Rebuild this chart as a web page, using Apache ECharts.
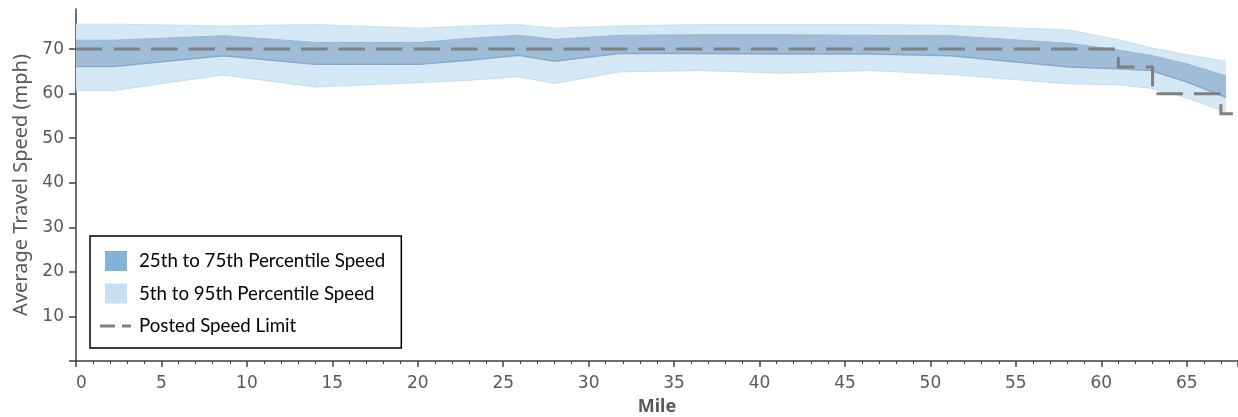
<!DOCTYPE html>
<html>
<head>
<meta charset="utf-8">
<script src="https://cdn.jsdelivr.net/npm/echarts@6/dist/echarts.min.js"></script>
<style>
html,body{margin:0;padding:0;background:#fff;}
#chart{width:1238px;height:417px;}
</style>
</head>
<body>
<div id="chart"></div>
<script>
// Data
const miles = [0, 2.2, 8.6, 14.0, 20.1, 23.0, 25.9, 28.0, 31.8, 36.6, 41.3, 46.4, 51.2, 58.1, 61.0, 62.9, 64.9, 67.3];
const p95 = [75.6, 75.6, 75.2, 75.5, 74.7, 75.2, 75.5, 74.7, 75.2, 75.5, 75.5, 75.5, 75.3, 74.3, 72.1, 70.3, 68.8, 67.3];
const p5  = [60.7, 60.7, 64.2, 61.5, 62.5, 63.0, 63.8, 62.3, 64.9, 65.2, 64.6, 65.2, 64.3, 62.2, 62.0, 61.2, 59.2, 55.9];
const p75 = [72.0, 72.0, 73.0, 71.5, 71.5, 72.4, 73.1, 72.2, 73.1, 73.2, 73.2, 73.1, 73.0, 71.3, 69.8, 68.6, 66.8, 64.0];
const p25 = [66.1, 66.1, 68.5, 66.6, 66.6, 67.5, 68.6, 67.3, 69.0, 69.0, 68.9, 68.9, 68.5, 66.0, 65.6, 65.2, 62.8, 59.2];
const limitMiles  = [0, 61.0, 61.0, 63.0, 63.0, 67.0, 67.0, 67.7];
const limitValues = [70, 70, 66, 66, 60, 60, 55.5, 55.5];
const xTicks = [0, 5, 10, 15, 20, 25, 30, 35, 40, 45, 50, 55, 60, 65];
const yTicks = [0, 10, 20, 30, 40, 50, 60, 70];
const yLabels = [10, 20, 30, 40, 50, 60, 70];
const seriesNames = ['25th to 75th Percentile Speed', '5th to 95th Percentile Speed', 'Posted Speed Limit'];

const bandRows = (lo, hi) => miles.map((m, i) => [m, lo[i], hi[i]]);

// Band drawn as one polygon through the axis scales (api.coord)
function bandRenderer(fill, edgeLo, edgeHi, edgeLoW, edgeHiW) {
  return function (params, api) {
    if (params.dataIndex !== 0) return null;
    const n = params.dataInsideLength !== undefined ? miles.length : miles.length;
    const top = [], bot = [];
    for (let i = 0; i < n; i++) {
      top.push(api.coord([api.value(0, i), api.value(2, i)]));
      bot.push(api.coord([api.value(0, i), api.value(1, i)]));
    }
    const poly = top.concat(bot.slice().reverse());
    return {
      type: 'group',
      children: [
        {type: 'polygon', shape: {points: poly}, style: {fill: fill, stroke: null}},
        {type: 'polyline', shape: {points: bot}, style: {fill: null, stroke: edgeLo, lineWidth: edgeLoW}},
        {type: 'polyline', shape: {points: top}, style: {fill: null, stroke: edgeHi, lineWidth: edgeHiW}}
      ]
    };
  };
}

const chart = echarts.init(document.getElementById('chart'), null, {renderer: 'canvas'});
const tickFont = {fontFamily: 'DejaVu Sans', fontSize: 17, color: '#595959'};
const rectIcon = 'path://M0,0M34,20M5,0H27V20H5Z';
const dashIcon = 'path://M0,0M34,20M0,8.5H15V11.5H0ZM22,8.5H31V11.5H22Z';

chart.setOption({
  backgroundColor: '#fff',
  animation: false,
  grid: {left: 76, right: 0, top: 9, bottom: 56, containLabel: false, outerBoundsMode: 'none'},
  legend: {
    orient: 'vertical',
    left: 90, top: 236,
    padding: [15, 16, 12, 10],
    itemWidth: 34, itemHeight: 20, itemGap: 12.5,
    backgroundColor: '#fff',
    borderColor: '#000', borderWidth: 1.5,
    selectedMode: false,
    textStyle: {fontFamily: 'Lato', fontSize: 18.7, color: '#000'},
    data: [
      {name: seriesNames[0], icon: rectIcon, itemStyle: {color: '#80b4d9', borderWidth: 0}},
      {name: seriesNames[1], icon: rectIcon, itemStyle: {color: '#c6dff2', borderWidth: 0}},
      {name: seriesNames[2], icon: dashIcon, itemStyle: {color: '#808080', borderWidth: 0}}
    ]
  },
  xAxis: {
    type: 'value', min: 0, max: 68, interval: 5,
    name: 'Mile', nameLocation: 'middle', nameGap: 37,
    nameTextStyle: {fontFamily: 'Noto Sans', fontSize: 18, fontWeight: 'bold', color: '#595959'},
    axisLine: {show: true, lineStyle: {color: '#404040', width: 1.5}},
    axisTick: {show: true, length: 6, lineStyle: {color: '#404040', width: 1.5}},
    minorTick: {show: true, splitNumber: 5, length: 3, lineStyle: {color: '#404040', width: 1}},
    axisLabel: Object.assign({margin: 14, alignMinLabel: 'left', customValues: xTicks}, tickFont),
    splitLine: {show: false}
  },
  yAxis: {
    type: 'value', min: 0, max: 79, interval: 10,
    name: 'Average Travel Speed (mph)', nameLocation: 'middle', nameGap: 44,
    nameTextStyle: {fontFamily: 'Noto Sans', fontSize: 20, color: '#595959'},
    axisLine: {show: true, lineStyle: {color: '#404040', width: 1.5}},
    axisTick: {show: true, length: 7, customValues: yTicks, lineStyle: {color: '#404040', width: 1.5}},
    axisLabel: Object.assign({margin: 12, customValues: yLabels}, tickFont),
    splitLine: {show: false}
  },
  series: [
    {
      name: seriesNames[1], type: 'custom', silent: true, color: '#d4e8f5',
      data: bandRows(p5, p95),
      encode: {x: 0, y: [1, 2]},
      renderItem: bandRenderer('#d4e8f5', '#c6ddef', '#c9e0f2', 1, 1),
      z: 1
    },
    {
      name: seriesNames[0], type: 'custom', silent: true, color: '#a0bdd8',
      data: bandRows(p25, p75),
      encode: {x: 0, y: [1, 2]},
      renderItem: bandRenderer('#a0bdd8', '#86aad1', '#99b8d6', 1.5, 1),
      z: 2
    },
    {
      name: seriesNames[2], type: 'line', symbol: 'none', silent: true,
      color: '#808080',
      data: limitMiles.map((m, i) => [m, limitValues[i]]),
      lineStyle: {color: '#808080', width: 3, type: [26.5, 11], cap: 'butt', join: 'miter'},
      z: 5
    }
  ]
});
</script>
</body>
</html>
